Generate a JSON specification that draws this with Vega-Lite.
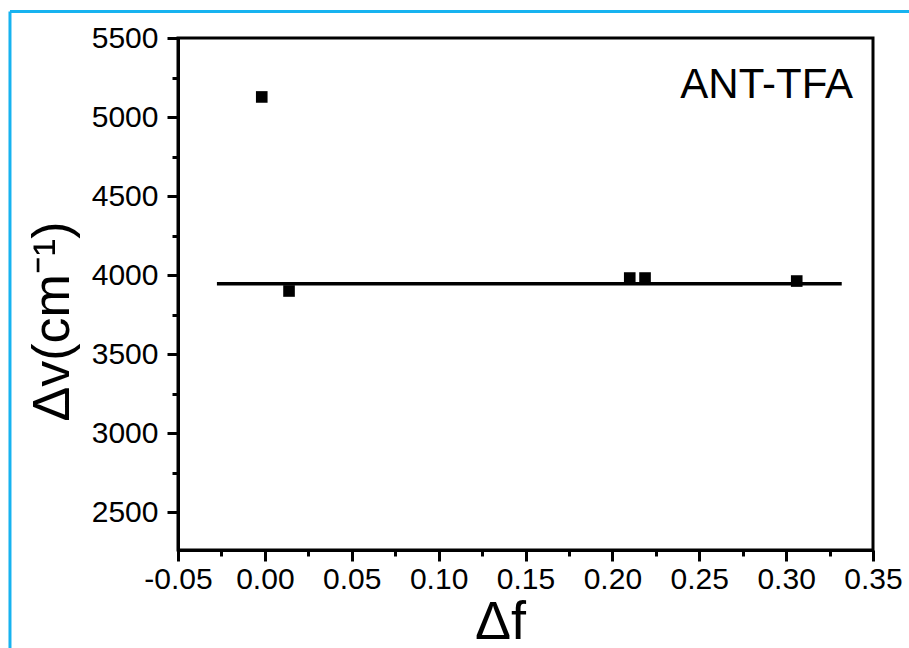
{
  "$schema": "https://vega.github.io/schema/vega-lite/v6.json",
  "width": 695,
  "height": 512,
  "autosize": {"type": "none"},
  "padding": {"left": 178, "top": 38, "right": 36, "bottom": 98},
  "background": "white",
  "config": {
    "view": {"stroke": "black", "strokeWidth": 3},
    "font": "Liberation Sans",
    "axis": {
      "tickWidth": 3,
      "tickColor": "black",
      "domainWidth": 3,
      "domainColor": "black",
      "grid": false,
      "labelFont": "Liberation Sans",
      "labelFontSize": 30,
      "labelColor": "black",
      "labelFlush": false,
      "labelOverlap": false,
      "titleFont": "Liberation Sans",
      "titleFontWeight": "normal",
      "titleColor": "black"
    },
    "axisX": {"labelPadding": 3, "titleFontSize": 54},
    "axisY": {"labelPadding": 9, "titleFontSize": 52}
  },
  "layer": [
    {
      "data": {
        "values": [
          {"df": -0.0018, "dv": 5127},
          {"df": 0.0139, "dv": 3899},
          {"df": 0.21, "dv": 3981},
          {"df": 0.2188, "dv": 3981},
          {"df": 0.3061, "dv": 3962}
        ]
      },
      "mark": {"type": "square", "size": 135, "color": "black", "opacity": 1},
      "encoding": {
        "x": {
          "field": "df",
          "type": "quantitative",
          "title": "Δf",
          "scale": {"domain": [-0.05, 0.35], "nice": false, "zero": false},
          "axis": {
            "values": [-0.05, -0.025, 0, 0.025, 0.05, 0.075, 0.1, 0.125, 0.15, 0.175, 0.2, 0.225, 0.25, 0.275, 0.3, 0.325, 0.35],
            "labelExpr": "abs(round(datum.value * 1000)) % 50 === 0 ? replace(format(datum.value, '.2f'), '\u2212', '-') : ''",
            "tickSize": {"condition": {"test": "abs(round(datum.value * 1000)) % 50 === 0", "value": 11}, "value": 6},
            "labelFontSize": 30,
            "titleAlign": "center",
            "titleBaseline": "alphabetic",
            "titleX": 322,
            "titleY": 88
          }
        },
        "y": {
          "field": "dv",
          "type": "quantitative",
          "title": "Δv(cm⁻¹)",
          "scale": {"domain": [2260, 5500], "nice": false, "zero": false},
          "axis": {
            "values": [2500, 2750, 3000, 3250, 3500, 3750, 4000, 4250, 4500, 4750, 5000, 5250, 5500],
            "labelExpr": "datum.value % 500 === 0 ? datum.label : ''",
            "format": "d",
            "tickSize": {"condition": {"test": "datum.value % 500 === 0", "value": 11}, "value": 6},
            "labelFontSize": 30,
            "titleAngle": -90,
            "titleAlign": "center",
            "titleBaseline": "alphabetic",
            "titleX": -110,
            "titleY": 283
          }
        }
      }
    },
    {
      "data": {"values": [{"df": -0.0276, "df2": 0.332, "dv": 3945}]},
      "mark": {"type": "rule", "color": "black", "strokeWidth": 3.5},
      "encoding": {
        "x": {"field": "df", "type": "quantitative", "title": "Δf"},
        "x2": {"field": "df2"},
        "y": {"field": "dv", "type": "quantitative", "title": "Δv(cm⁻¹)"}
      }
    },
    {
      "data": {"values": [{"note": "ANT-TFA", "df": 0.3385, "dv": 5120}]},
      "mark": {"type": "text", "align": "right", "baseline": "alphabetic", "fontSize": 42, "font": "Liberation Sans", "color": "black"},
      "encoding": {
        "x": {"field": "df", "type": "quantitative", "title": "Δf"},
        "y": {"field": "dv", "type": "quantitative", "title": "Δv(cm⁻¹)"},
        "text": {"field": "note"}
      }
    },
    {
      "data": {"values": [{}]},
      "mark": {"type": "rule", "color": "#17b3f0", "strokeWidth": 3},
      "encoding": {
        "x": {"datum": -0.1467, "type": "quantitative", "title": "Δf"},
        "y": {"datum": 5668, "type": "quantitative", "title": "Δv(cm⁻¹)"},
        "y2": {"datum": 1500}
      }
    },
    {
      "data": {"values": [{}]},
      "mark": {"type": "rule", "color": "#17b3f0", "strokeWidth": 3},
      "encoding": {
        "x": {"datum": -0.1467, "type": "quantitative", "title": "Δf"},
        "x2": {"datum": 0.45},
        "y": {"datum": 5668, "type": "quantitative", "title": "Δv(cm⁻¹)"}
      }
    }
  ]
}
